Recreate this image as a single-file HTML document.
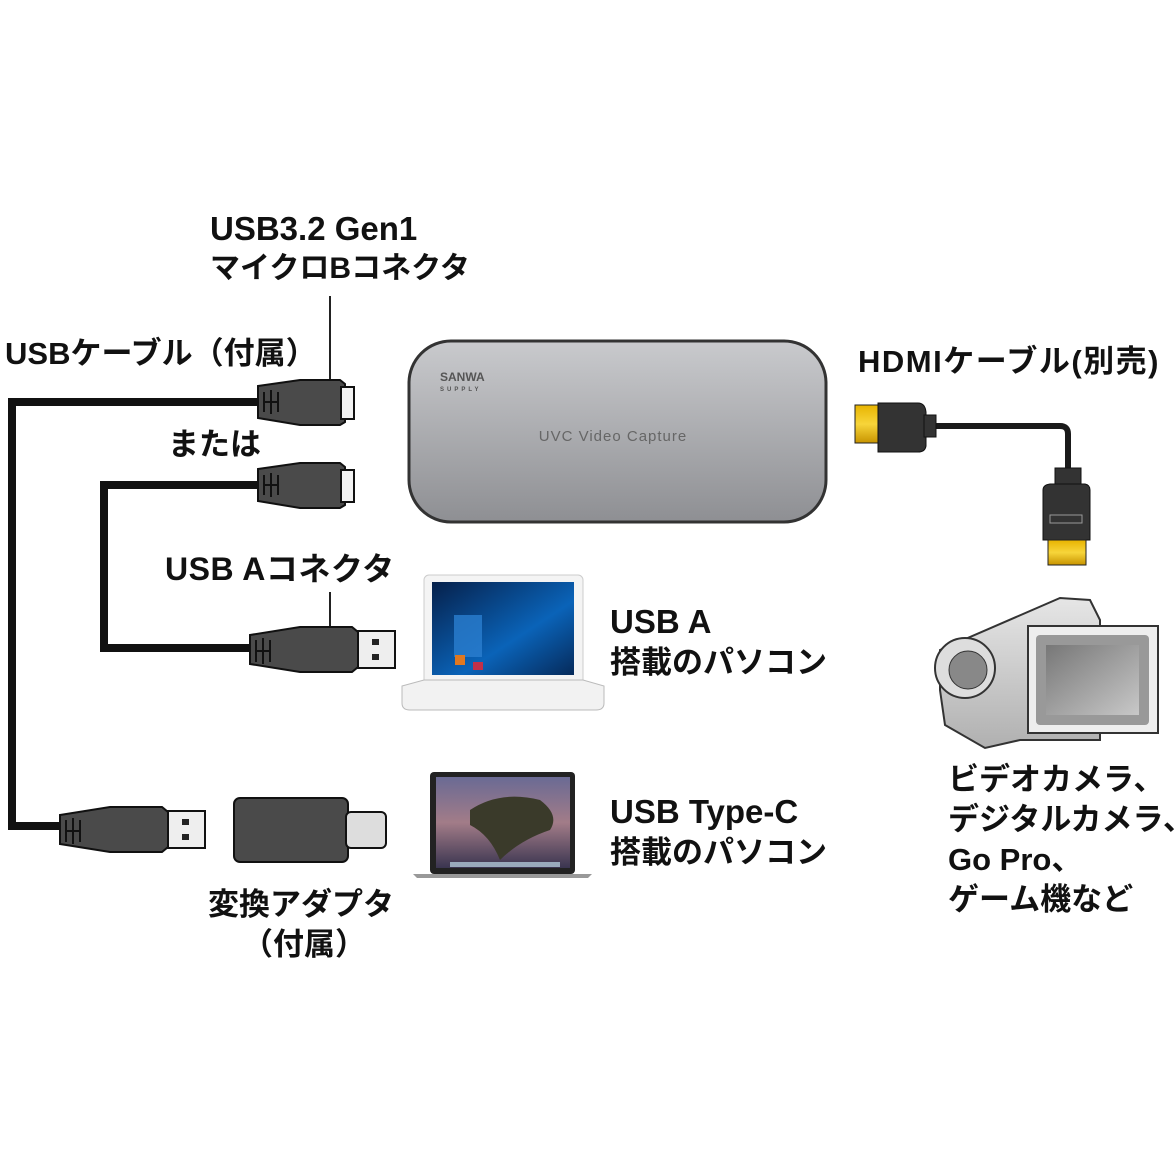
<!DOCTYPE html>
<html><head><meta charset="utf-8"><style>
html,body{margin:0;padding:0;background:#fff;}
svg{display:block}
text{font-family:"Liberation Sans","Noto Sans CJK JP",sans-serif;font-weight:bold;fill:#111;}
</style></head><body>
<svg width="1176" height="1176" viewBox="0 0 1176 1176" xmlns="http://www.w3.org/2000/svg">
<defs>
<linearGradient id="dev" x1="0" y1="0" x2="0" y2="1"><stop offset="0" stop-color="#c9cacd"/><stop offset="1" stop-color="#8e8f93"/></linearGradient>
<linearGradient id="win" x1="0" y1="0" x2="1" y2="1"><stop offset="0" stop-color="#06204a"/><stop offset="0.6" stop-color="#0a63b8"/><stop offset="1" stop-color="#062a5a"/></linearGradient>
<linearGradient id="mac" x1="0" y1="0" x2="0" y2="1"><stop offset="0" stop-color="#6a6a94"/><stop offset="0.5" stop-color="#a27c88"/><stop offset="1" stop-color="#3a3550"/></linearGradient>
<linearGradient id="gold" x1="0" y1="0" x2="0" y2="1"><stop offset="0" stop-color="#e8b400"/><stop offset="0.5" stop-color="#f7d53a"/><stop offset="1" stop-color="#c89400"/></linearGradient>
<linearGradient id="cam" x1="0" y1="0" x2="0" y2="1"><stop offset="0" stop-color="#e6e6e6"/><stop offset="1" stop-color="#b0b0b0"/></linearGradient>
<linearGradient id="lcd" x1="0" y1="0" x2="1" y2="1"><stop offset="0" stop-color="#777"/><stop offset="1" stop-color="#c8c8c8"/></linearGradient>
</defs>

<!-- labels -->
<text x="210" y="240" font-size="33">USB3.2 Gen1</text>
<text x="210" y="278" font-size="30">マイクロBコネクタ</text>
<text x="5" y="364" font-size="31">USBケーブル（付属）</text>
<text x="168" y="455" font-size="31">または</text>
<text x="165" y="580" font-size="32" letter-spacing="0.5">USB Aコネクタ</text>
<text x="610" y="633" font-size="33">USB A</text>
<text x="610" y="673" font-size="31">搭載のパソコン</text>
<text x="610" y="823" font-size="33">USB Type-C</text>
<text x="610" y="863" font-size="31">搭載のパソコン</text>
<text x="208" y="915" font-size="31">変換アダプタ</text>
<text x="242" y="955" font-size="31">（付属）</text>
<text x="858" y="372" font-size="31" letter-spacing="1.5">HDMIケーブル(別売)</text>
<text x="948" y="790" font-size="31">ビデオカメラ、</text>
<text x="948" y="830" font-size="31">デジタルカメラ、</text>
<text x="948" y="870" font-size="31">Go Pro、</text>
<text x="948" y="910" font-size="31">ゲーム機など</text>

<!-- leader lines -->
<line x1="330" y1="296" x2="330" y2="396" stroke="#222" stroke-width="2"/>
<line x1="330" y1="592" x2="330" y2="638" stroke="#222" stroke-width="2"/>

<!-- cables -->
<polyline points="262,402 12,402 12,826 64,826" fill="none" stroke="#111" stroke-width="8"/>
<polyline points="262,485 104,485 104,648 254,648" fill="none" stroke="#111" stroke-width="8"/>

<!-- micro B connectors -->
<g id="mb">
<path d="M258,386 L300,380 L340,380 L345,384 L345,422 L340,425 L300,425 L258,418 Z" fill="#4a4a4a" stroke="#111" stroke-width="2"/>
<rect x="341" y="387" width="13" height="32" fill="#f2f2f2" stroke="#111" stroke-width="2"/>
<path d="M264,392 v20 M271,390 v24 M278,392 v20 M264,402 h14" stroke="#111" stroke-width="2"/>
</g>
<use href="#mb" transform="translate(0,83)"/>

<!-- USB A plug -->
<g id="ua">
<path d="M250,635 L300,627 L352,627 L358,632 L358,667 L352,672 L300,672 L250,664 Z" fill="#4a4a4a" stroke="#111" stroke-width="2"/>
<rect x="358" y="631" width="37" height="37" fill="#eee" stroke="#111" stroke-width="2"/>
<rect x="372" y="639" width="7" height="6" fill="#222"/><rect x="372" y="654" width="7" height="6" fill="#222"/>
<path d="M256,640 v22 M263,638 v26 M270,640 v22 M256,651 h14" stroke="#111" stroke-width="2"/>
</g>
<use href="#ua" transform="translate(-190,180)"/>

<!-- adapter -->
<rect x="234" y="798" width="114" height="64" rx="6" fill="#4a4a4a" stroke="#111" stroke-width="2"/>
<rect x="346" y="812" width="40" height="36" rx="5" fill="#ddd" stroke="#111" stroke-width="2"/>

<!-- device -->
<rect x="409" y="341" width="417" height="181" rx="42" fill="url(#dev)" stroke="#333" stroke-width="3"/>
<text x="440" y="381" font-size="12" style="fill:#555">SANWA</text>
<text x="440" y="391" font-size="6" style="fill:#555;letter-spacing:3px">SUPPLY</text>
<text x="613" y="441" font-size="15" text-anchor="middle" style="fill:#666;font-weight:normal;letter-spacing:1px">UVC Video Capture</text>

<!-- white laptop -->
<rect x="424" y="575" width="159" height="112" rx="5" fill="#f4f4f4" stroke="#ccc"/>
<rect x="432" y="582" width="142" height="93" fill="url(#win)"/>
<rect x="454" y="615" width="28" height="42" fill="#2a7ed0" opacity="0.8"/>
<rect x="455" y="655" width="10" height="10" fill="#e07820"/>
<rect x="473" y="662" width="10" height="8" fill="#c0304a"/>
<path d="M402,686 L424,680 L583,680 L604,686 L604,703 Q604,710 596,710 L410,710 Q402,710 402,703 Z" fill="#f2f2f2" stroke="#bbb"/>

<!-- mac -->
<rect x="430" y="772" width="145" height="102" rx="4" fill="#222"/>
<rect x="436" y="777" width="134" height="91" fill="url(#mac)"/>
<path d="M470,810 Q500,790 540,800 Q560,815 550,830 Q520,840 500,860 Q490,835 470,825 Z" fill="#3a3a2a"/>
<rect x="450" y="862" width="110" height="5" fill="#9ab"/>
<path d="M413,874 L592,874 L588,878 L417,878 Z" fill="#999"/>

<!-- HDMI -->
<path d="M925,426 L1060,426 Q1068,426 1068,434 L1068,475" fill="none" stroke="#1a1a1a" stroke-width="6"/>
<rect x="855" y="405" width="26" height="38" fill="url(#gold)" stroke="#222"/>
<path d="M878,403 L918,403 Q925,403 926,412 L926,446 Q925,452 918,452 L878,452 Z" fill="#333" stroke="#111"/>
<rect x="924" y="415" width="12" height="22" fill="#333" stroke="#111"/>
<rect x="1055" y="468" width="26" height="18" fill="#333" stroke="#111"/>
<path d="M1043,490 Q1043,485 1050,484 L1085,484 Q1090,485 1090,490 L1090,540 L1043,540 Z" fill="#333" stroke="#111"/>
<rect x="1050" y="515" width="32" height="8" fill="none" stroke="#999"/>
<rect x="1048" y="540" width="38" height="25" fill="url(#gold)" stroke="#222"/>

<!-- camera -->
<path d="M940,650 L1060,598 L1090,600 L1100,620 L1100,740 L1020,740 L985,748 L945,725 L940,690 Z" fill="url(#cam)" stroke="#333" stroke-width="2"/>
<circle cx="965" cy="668" r="30" fill="#ddd" stroke="#333" stroke-width="2"/>
<circle cx="968" cy="670" r="19" fill="#888" stroke="#333"/>
<rect x="1028" y="626" width="130" height="107" fill="#eee" stroke="#333" stroke-width="2"/>
<rect x="1036" y="635" width="113" height="90" rx="4" fill="#999"/>
<rect x="1046" y="645" width="93" height="70" fill="url(#lcd)"/>
</svg>
</body></html>
